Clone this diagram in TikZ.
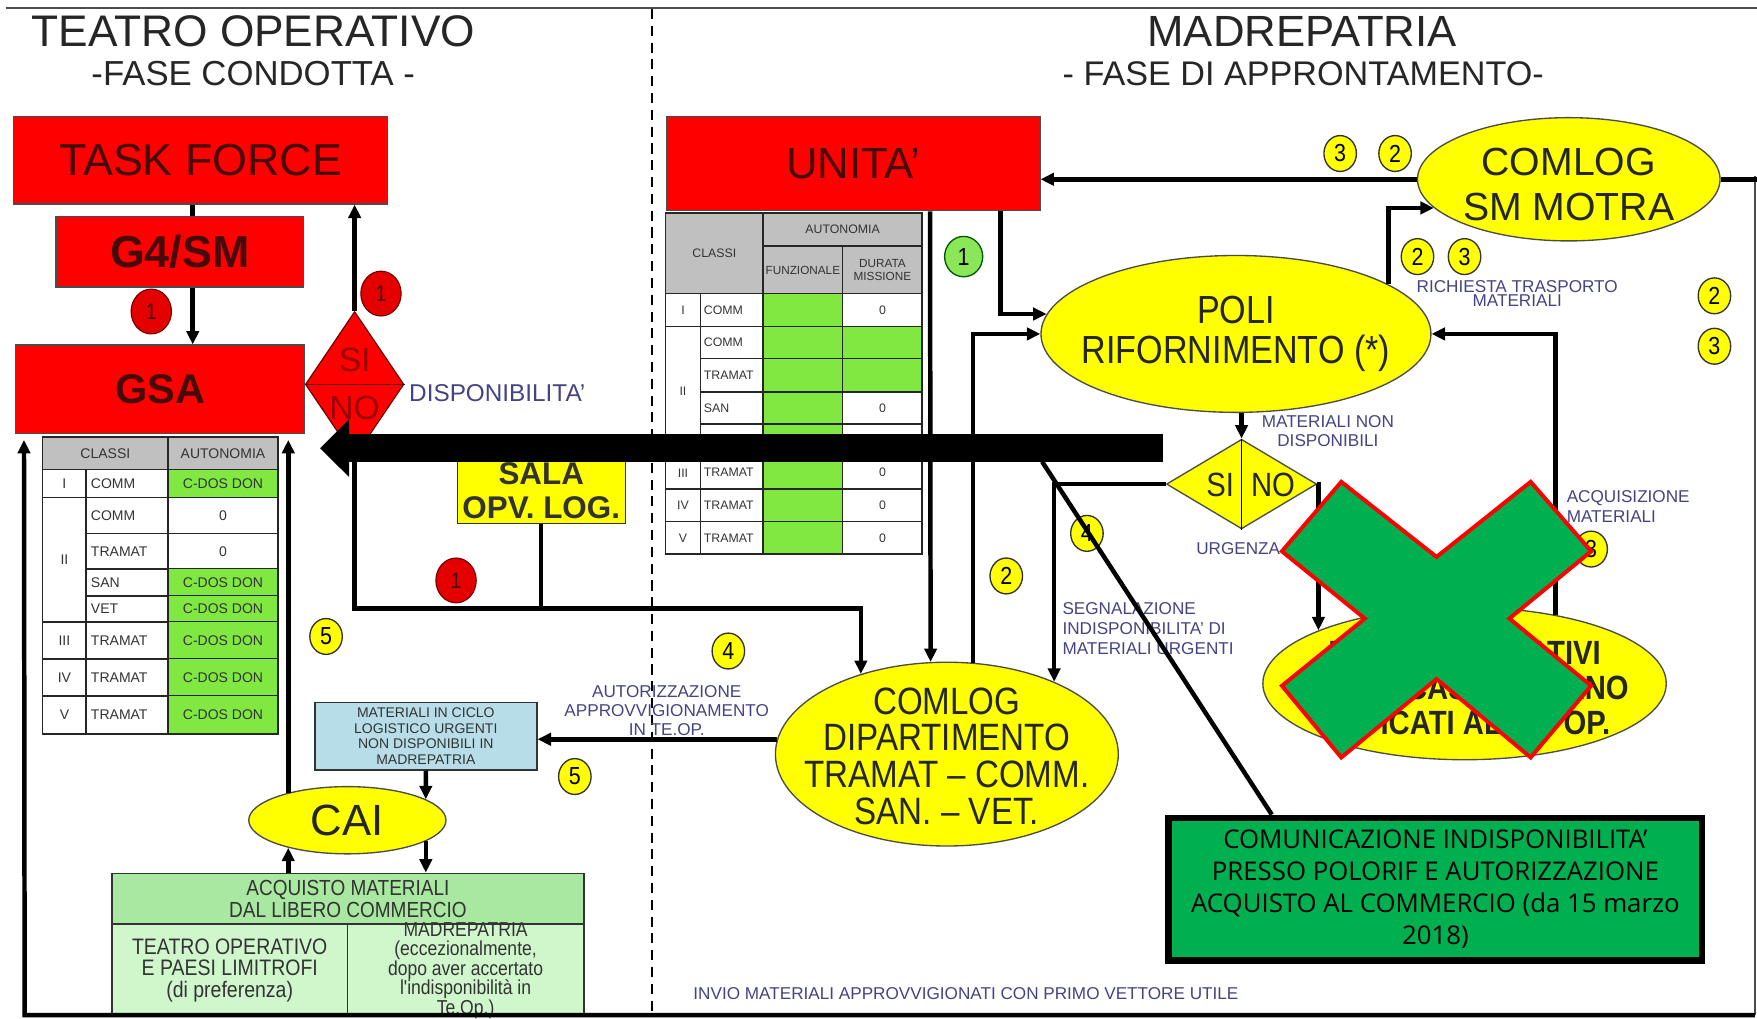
\documentclass[tikz,border=0pt]{standalone}
\usepackage{fontspec}
\setmainfont{Liberation Sans}
\newfontfamily\narrowfont[FakeStretch=0.87]{Liberation Sans}
\newfontfamily\notefont{Open Sans}
\usepackage{tikz}
\usetikzlibrary{shapes.geometric, arrows.meta}
\definecolor{boxred}{RGB}{255, 0, 0}
\definecolor{inkred}{RGB}{70, 10, 10}
\definecolor{ovalyellow}{RGB}{255, 255, 0}
\definecolor{headgray}{RGB}{192, 192, 192}
\definecolor{cellgreen}{RGB}{128, 232, 64}
\definecolor{labelblue}{RGB}{68, 68, 130}
\definecolor{paleblue}{RGB}{183, 221, 232}
\definecolor{buygreen}{RGB}{168, 232, 160}
\definecolor{buylight}{RGB}{208, 246, 204}
\definecolor{xgreen}{RGB}{0, 176, 80}
\definecolor{numgreen}{RGB}{140, 230, 90}
\newcommand{\fsz}[2]{\fontsize{#1pt}{#2pt}\selectfont}

\begin{document}
\begin{tikzpicture}[x=1pt, y=-1pt,
  redbox/.style={rectangle, draw=black!70, line width=1.2pt, fill=boxred, text=inkred, inner sep=0pt},
  oval/.style={ellipse, draw=black!70, line width=1.2pt, fill=ovalyellow, inner sep=0pt},
  ovaltext/.style={align=center, text=black!85, inner sep=0pt},
  yellownum/.style={ellipse, draw=black!80, line width=1.2pt, fill=ovalyellow, minimum width=29pt, minimum height=32pt, inner sep=0pt, font=\narrowfont\fsz{22}{22}},
  rednum/.style={ellipse, draw=red!45!black, line width=1pt, fill=boxred!90!black, minimum width=36pt, minimum height=40pt, inner sep=0pt, text=inkred, font=\narrowfont\fsz{20}{20}},
  greennum/.style={ellipse, draw=green!35!black, line width=1.2pt, fill=numgreen, minimum width=34pt, minimum height=36pt, inner sep=0pt, font=\narrowfont\fsz{22}{22}},
  flow/.style={line width=4pt, -{Triangle[length=12pt, width=11pt]}},
  link/.style={line width=4pt},
  lbl/.style={text=labelblue, font=\fsz{15.3}{17}, align=center, inner sep=0pt},
  grid/.style={line width=1.5pt, black!85},
  cell/.style={inner sep=0pt, text=black!80, font=\fsz{12.5}{13}},
  ucell/.style={inner sep=0pt, text=black!80, font=\fsz{11}{11.5}, align=center}
]
\useasboundingbox (0,0) rectangle (1568,909);

% cornice e separatore
\draw[line width=1.5pt, black!70] (5,7) -- (1568,7);
\draw[line width=1.5pt, black!70] (1566,157) -- (1566,906);
\draw[line width=1.2pt, dash pattern=on 9pt off 6pt] (582,8) -- (582,906);

% intestazioni
\node[font=\fsz{39.5}{39}, text=black!85] (tTeatro) at (226,28) {TEATRO OPERATIVO};
\node[font=\fsz{31}{30}, text=black!85] (tCondotta) at (226,66) {-FASE CONDOTTA -};
\node[font=\fsz{39}{39}, text=black!85] (tMadre) at (1162,28) {MADREPATRIA};
\node[font=\fsz{30.5}{30}, text=black!85] (tAppr) at (1163,66) {- FASE DI APPRONTAMENTO-};

% tabella GSA
\fill[headgray] (38,390) rectangle (248,419);
\foreach \t/\b/\c/\v/\g [count=\i] in {419/444/COMM/C-DOS DON/1, 444/476/COMM/0/0, 476/508/TRAMAT/0/0, 508/532/SAN/C-DOS DON/1, 532/555/VET/C-DOS DON/1, 555/588/TRAMAT/C-DOS DON/1, 588/621/TRAMAT/C-DOS DON/1, 621/655/TRAMAT/C-DOS DON/1} {
  \ifnum\g=1\relax \fill[cellgreen] (150,\t) rectangle (248,\b); \fi
  \node[cell, anchor=west] (gc\i) at (81,{(\t+\b)/2}) {\c};
  \node[cell] (gv\i) at (199,{(\t+\b)/2}) {\v};
  \draw[grid] (77,\b) -- (248,\b);
}
\draw[grid] (38,390) rectangle (248,655);
\draw[grid] (38,419) -- (248,419) (38,444) -- (77,444) (38,555) -- (77,555) (38,588) -- (77,588) (38,621) -- (77,621);
\draw[grid] (77,419) -- (77,655) (150,390) -- (150,655);
\node[cell] (gHeadC) at (94,404.5) {CLASSI};
\node[cell] (gHeadA) at (199,404.5) {AUTONOMIA};
\node[cell] (gr1) at (57.5,431.5) {I};
\node[cell] (gr2) at (57.5,499.5) {II};
\node[cell] (gr3) at (57.5,571.5) {III};
\node[cell] (gr4) at (57.5,604.5) {IV};
\node[cell] (gr5) at (57.5,638) {V};

% tabella UNITA'
\fill[headgray] (594,190) rectangle (823,262);
\foreach \t/\b/\c/\f [count=\i] in {262/291.5/COMM/0, 291.5/320/COMM/1, 320/350/TRAMAT/1, 350/378.4/SAN/0, 378.4/407/ /2, 407/436.7/TRAMAT/0, 436.7/465.5/TRAMAT/0, 465.5/494.4/TRAMAT/0} {
  \fill[cellgreen] (681,\t) rectangle (752,\b);
  \ifcase\f\relax
    \node[ucell] (uv\i) at (787.5,{(\t+\b)/2}) {0};
  \or
    \fill[cellgreen] (752,\t) rectangle (823,\b);
  \or
  \fi
  \node[ucell, anchor=west] (uc\i) at (628,{(\t+\b)/2}) {\c};
}
\draw[grid] (594,190) rectangle (823,494.4);
\draw[grid] (681,219.5) -- (823,219.5) (594,262) -- (823,262) (594,291.5) -- (823,291.5) (625,320) -- (823,320) (625,350) -- (823,350) (625,378.4) -- (823,378.4) (594,407) -- (823,407) (594,436.7) -- (823,436.7) (594,465.5) -- (823,465.5);
\draw[grid] (625,262) -- (625,494.4) (681,190) -- (681,494.4) (752,219.5) -- (752,494.4);
\node[ucell] (uHeadC) at (637.5,226) {CLASSI};
\node[ucell] (uHeadA) at (752,205) {AUTONOMIA};
\node[ucell, font=\fsz{10.5}{11}] (uHeadF) at (716.5,241) {FUNZIONALE};
\node[ucell, font=\fsz{10.5}{11}] (uHeadD) at (787.5,241) {DURATA\\MISSIONE};
\node[ucell] (ur1) at (609.5,277) {I};
\node[ucell] (ur2) at (609.5,349) {II};
\node[ucell] (ur3) at (609.5,422) {III};
\node[ucell] (ur4) at (609.5,451) {IV};
\node[ucell] (ur5) at (609.5,480) {V};

% riquadri rossi
\node[redbox, minimum width=334pt, minimum height=78pt, font=\fsz{40}{40}] (taskforce) at (179,143) {TASK FORCE};
\node[redbox, minimum width=221pt, minimum height=63pt, font=\bfseries\fsz{40}{40}] (g4sm) at (160.5,224.5) {G4/SM};
\node[redbox, minimum width=258pt, minimum height=79pt, font=\bfseries\fsz{37}{37}] (gsa) at (143,347.5) {GSA};
\node[redbox, minimum width=333pt, minimum height=84pt, font=\fsz{39}{39}] (unita) at (761.5,146) {UNITA'};

% rombo disponibilita'
\node[diamond, draw=red!40!black, line width=1pt, fill=boxred, minimum width=88pt, minimum height=130pt, inner sep=0pt] (dispo) at (316.5,343) {};
\draw[line width=1pt, red!40!black] (dispo.west) -- (dispo.east);
\node[text=red!60!black, font=\fsz{30}{30}] (dispoSi) at (316.5,321) {SI};
\node[text=red!60!black, font=\fsz{30}{30}] (dispoNo) at (316.5,364) {NO};
\node[lbl, anchor=west, font=\fsz{21.7}{22}] (lDispo) at (365,351) {DISPONIBILITA'};

% sala operativa
\node[draw=black!80, line width=1.2pt, fill=ovalyellow, minimum width=150pt, minimum height=72pt, inner sep=0pt] (sala) at (483,431) {};
\node[align=center, font=\bfseries\fsz{28}{30}, text=black!80] (salat) at (483,438) {SALA\\OPV. LOG.};

% ovali
\node[oval, minimum width=348pt, minimum height=140pt] (poli) at (1103,298) {};
\node[ovaltext, font=\narrowfont\fsz{35}{36}] (polit) at (poli) {POLI\\RIFORNIMENTO (*)};
\node[oval, minimum width=270pt, minimum height=110pt] (motra) at (1400,160) {};
\node[ovaltext, font=\fsz{35}{40}] (motrat) at (1400,165) {COMLOG\\SM MOTRA};
\node[oval, minimum width=306pt, minimum height=164pt] (comdip) at (845,673) {};
\node[ovaltext, font=\narrowfont\fsz{34}{33}] (comdipt) at (845,675) {COMLOG\\DIPARTIMENTO\\TRAMAT – COMM.\\SAN. – VET.};
\node[oval, minimum width=176pt, minimum height=60pt] (cai) at (310,732) {};
\node[ovaltext, font=\fsz{39}{39}] (cait) at (cai) {CAI};
\node[oval, minimum width=360pt, minimum height=136pt] (distac) at (1307,610) {};
\node[ovaltext, font=\narrowfont\bfseries\fsz{30}{31}] (distact) at (1307,614) {NUCLEI OPERATIVI\\DELLA CASA INTERNO\\DEDICATI AL TE. OP.};

% rombo urgenza
\node[diamond, draw=black!70, line width=1.2pt, fill=ovalyellow, minimum width=134pt, minimum height=80pt, inner sep=0pt] (sino) at (1108,432) {};
\draw[line width=1pt] (sino.north) -- (sino.south);
\node[text=black!85, font=\narrowfont\fsz{30}{30}] (sinoSi) at (1089,433) {SI};
\node[text=black!85, font=\narrowfont\fsz{30}{30}] (sinoNo) at (1136,433) {NO};

% materiali urgenti e acquisto
\node[draw=black!80, line width=1.5pt, fill=paleblue, minimum width=198pt, minimum height=60pt, inner sep=0pt] (mat) at (380,657) {};
\node[align=center, font=\fsz{12.5}{14}, text=black!80] (matt) at (mat) {MATERIALI IN CICLO\\LOGISTICO URGENTI\\NON DISPONIBILI IN\\MADREPATRIA};
\node[draw=black!80, line width=1.5pt, fill=buygreen, minimum width=421pt, minimum height=45pt, inner sep=0pt, align=center, text=black!80, font=\narrowfont\fsz{19.5}{19.5}] (buy) at (310.5,802) {ACQUISTO MATERIALI\\DAL LIBERO COMMERCIO};
\node[draw=black!80, line width=1.5pt, fill=buylight, minimum width=210pt, minimum height=81pt, inner sep=0pt] (buyTO) at (205,865.5) {};
\node[draw=black!80, line width=1.5pt, fill=buylight, minimum width=211pt, minimum height=81pt, inner sep=0pt] (buyMP) at (415.5,865.5) {};
\node[align=center, text=black!80, font=\narrowfont\fsz{20}{19.5}] (buyTOt) at (205,866) {TEATRO OPERATIVO\\E PAESI LIMITROFI\\(di preferenza)};
\node[align=center, text=black!80, font=\narrowfont\fsz{18}{17.3}] (buyMPt) at (415.5,866) {MADREPATRIA\\(eccezionalmente,\\dopo aver accertato\\l'indisponibilità in\\Te.Op.)};

% etichette
\node[lbl] (lMatNon) at (1185,385) {MATERIALI NON\\DISPONIBILI};
\node[lbl, font=\fsz{15.3}{13}] (lRich) at (1354,262) {RICHIESTA TRASPORTO\\MATERIALI};
\node[lbl, anchor=west, align=left, font=\fsz{15.3}{17.5}] (lSegn) at (948,561) {SEGNALAZIONE\\INDISPONIBILITA' DI\\MATERIALI URGENTI};
\node[lbl] (lUrg) at (1105,490) {URGENZA};
\node[lbl, anchor=west, align=left, font=\fsz{15.3}{18}] (lAcq) at (1398,452) {ACQUISIZIONE\\MATERIALI};
\node[lbl] (lAut) at (595,634) {AUTORIZZAZIONE\\APPROVVIGIONAMENTO\\IN TE.OP.};
\node[lbl] (lInvio) at (862,887) {INVIO MATERIALI APPROVVIGIONATI CON PRIMO VETTORE UTILE};

% numeri
\node[rednum] (r1a) at (135,278) {1};
\node[rednum] (r1b) at (340,262) {1};
\node[rednum] (r1c) at (407,518) {1};
\node[greennum] (g1) at (860,229) {1};
\node[yellownum] (n5a) at (291,568) {5};
\node[yellownum] (n4a) at (650,581) {4};
\node[yellownum] (n5b) at (513,693) {5};
\node[yellownum] (n2a) at (898,514) {2};
\node[yellownum] (n4b) at (970,476) {4};
\node[yellownum] (n3a) at (1196,137) {3};
\node[yellownum] (n2b) at (1245,137) {2};
\node[yellownum] (n2c) at (1265,229) {2};
\node[yellownum] (n3b) at (1307,229) {3};
\node[yellownum] (n2d) at (1530,264) {2};
\node[yellownum] (n3c) at (1530,309) {3};
\node[yellownum] (n3d) at (1420,490) {3};

% collegamenti teatro operativo
\coordinate (jct) at (483,543);
\coordinate (baseR) at (1566,906);
\coordinate (baseL) at (22,906);
\draw[link] ([xshift=-7pt]taskforce.south) -- ([xshift=11.5pt]g4sm.north);
\draw[flow] ([xshift=11.5pt]g4sm.south) -- ([xshift=29pt]gsa.north);
\draw[flow] (dispo.north) -- (dispo.north |- taskforce.south);
\draw[link] (sala.south) -- (jct);
\draw[flow] (dispo.south) |- (jct) -| (comdip.137);
\draw[flow, shorten >=5pt] (cai.155) -- (cai.155 |- gsa.south);
\draw[flow] (buy.north -| cai.205) -- (cai.205);
\draw[flow] (cai.-15) -- (cai.-15 |- buy.north);
\draw[flow] (mat.south) -- (cai.15);
\draw[flow] (comdip.175) -- (comdip.175 -| mat.east);
\draw[link] (motra.east) -- ([xshift=2pt]motra.east -| baseR);
\draw[flow, shorten >=5pt] (baseR) -- (baseL) -- ([xshift=8pt]gsa.south west);

% collegamenti madrepatria
\draw[flow] (motra.west) -- (motra.west -| unita.east);
\draw[flow] ([xshift=131.5pt]unita.south) |- (poli.174);
\draw[flow] ([xshift=68.5pt]unita.south) -- (comdip.100);
\draw[flow] (comdip.74) |- (poli.west);
\draw[flow] (poli.18) |- (motra.192);
\draw[flow] (sino.north |- poli.south) -- (sino.north);
\draw[flow] (sino.west) -| (comdip.34);
\draw[flow] (sino.east) -| (distac.160);
\draw[flow] (distac.37) |- (poli.east);

% freccia nera
\coordinate (barR) at (1038,400);
\draw[line width=25pt, -{Triangle[length=26pt, width=50pt]}, shorten >=13pt] (barR) -- (barR -| gsa.east);

% croce verde
\filldraw[fill=xgreen, draw=red, line width=3.5pt, line join=miter] (1144,492) -- (1197,430) -- (1282,497) -- (1366,430) -- (1420,492) -- (1347,552) -- (1420,612) -- (1366,676) -- (1282,606) -- (1197,676) -- (1144,612) -- (1218,552) -- cycle;

% riquadro nota
\node[draw=black, line width=6pt, fill=xgreen, minimum width=476pt, minimum height=127pt, inner sep=0pt, align=center, font=\notefont\fsz{23}{28.5}] (callout) at (1281,793.5) {COMUNICAZIONE INDISPONIBILITA’\\PRESSO POLORIF E AUTORIZZAZIONE\\ACQUISTO AL COMMERCIO (da 15 marzo\\2018)};
\coordinate (barFoot) at (930,412);
\draw[link] (barFoot) -- ([xshift=-146pt]callout.north);
\end{tikzpicture}
\end{document}
